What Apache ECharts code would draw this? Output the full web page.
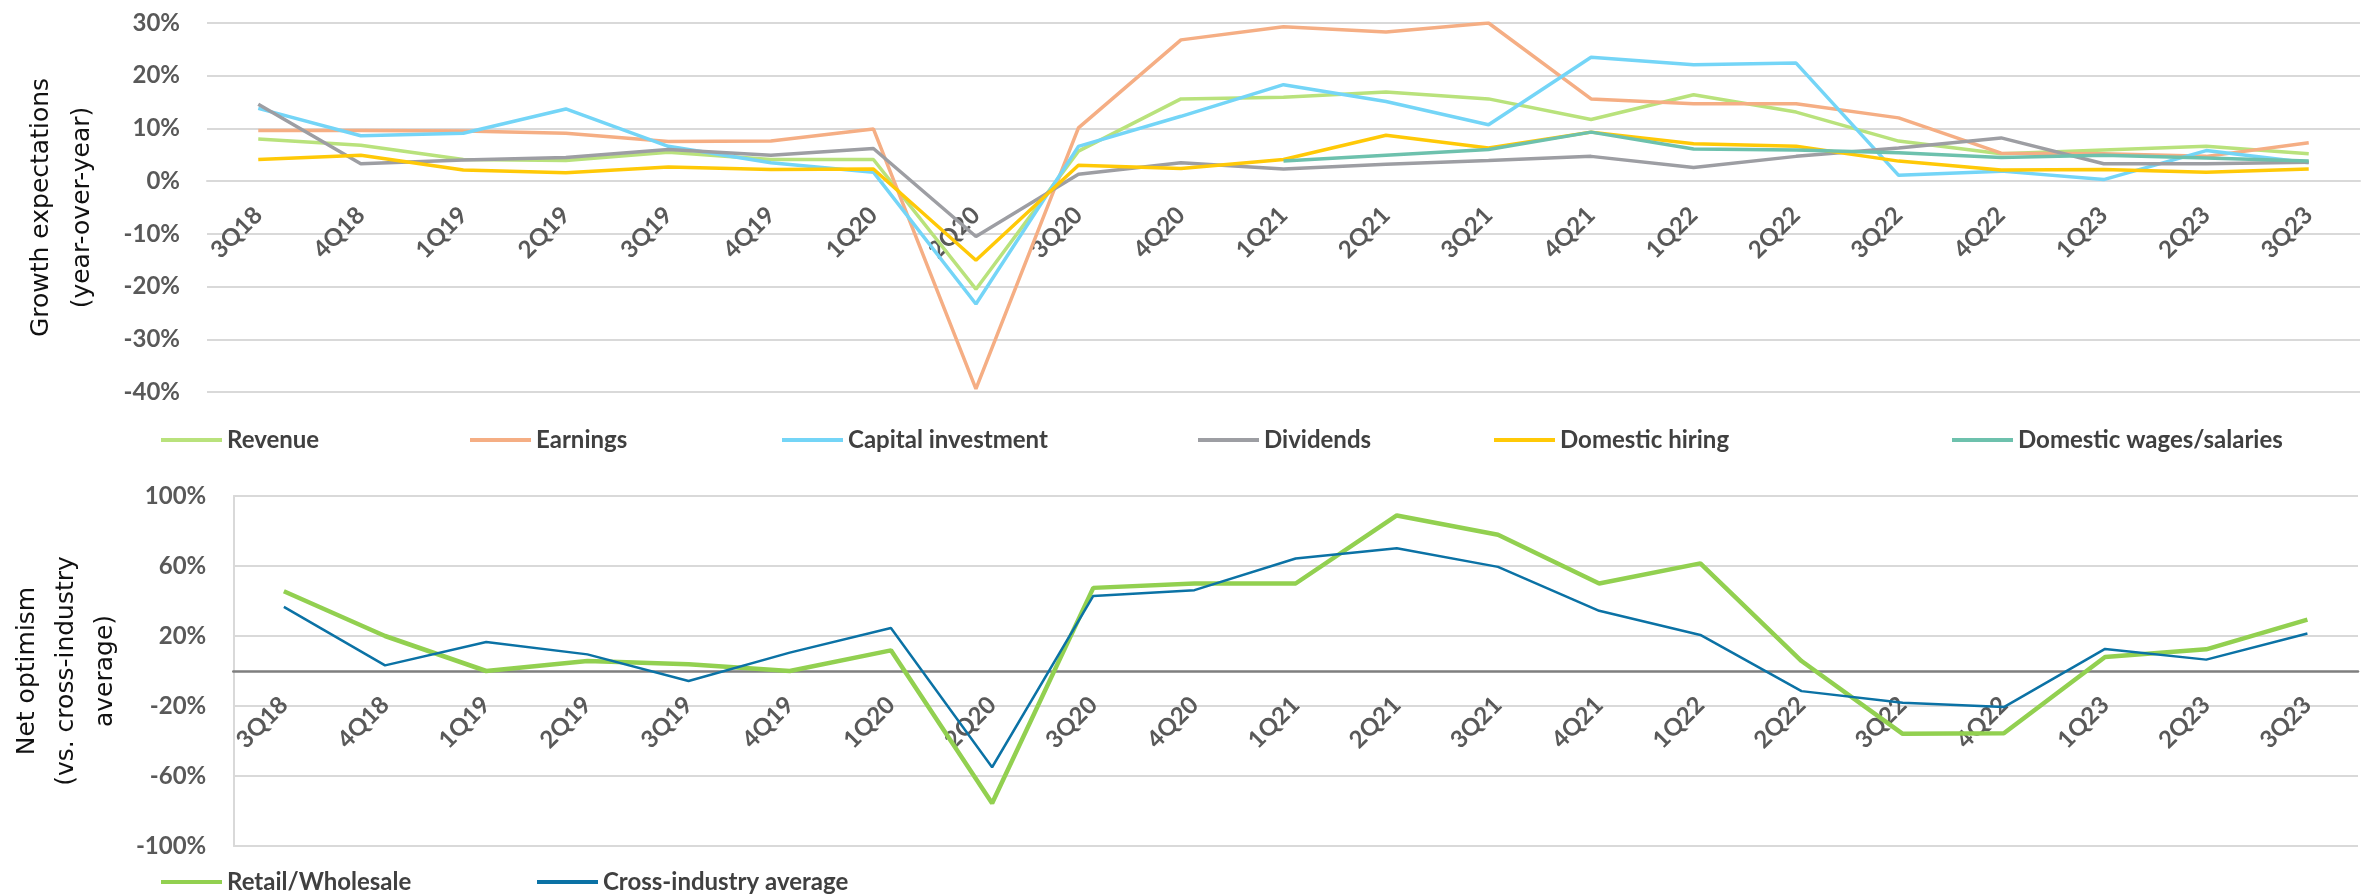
<!DOCTYPE html>
<html lang="en">
<head>
<meta charset="utf-8">
<title>Growth expectations and net optimism</title>
<script src="https://cdn.jsdelivr.net/npm/echarts@6.0.0/dist/echarts.min.js"></script>
<style>
    body {
        margin: 0;
        background: #fff;
    }

    #main {
        width: 2369px;
        height: 894px;
    }
</style>
</head>
<body>
<div id="main"></div>
<script>
    // quarters on both x axes
    var quarters = ['3Q18', '4Q18', '1Q19', '2Q19', '3Q19', '4Q19', '1Q20', '2Q20', '3Q20', '4Q20',
        '1Q21', '2Q21', '3Q21', '4Q21', '1Q22', '2Q22', '3Q22', '4Q22', '1Q23', '2Q23', '3Q23'];

    // top panel: growth expectations (%)
    var revenue = [8.0, 6.8, 4.1, 3.9, 5.5, 4.1, 4.1, -20.5, 5.7, 15.6, 15.9, 16.9, 15.6, 11.7, 16.4, 13.1, 7.6, 5.2, 5.9, 6.6, 5.2];
    var earnings = [9.6, 9.6, 9.5, 9.1, 7.5, 7.6, 9.9, -39.4, 10.1, 26.8, 29.3, 28.3, 30.0, 15.6, 14.7, 14.7, 12.0, 5.3, 5.2, 4.7, 7.3];
    var capex = [13.8, 8.6, 9.1, 13.7, 6.6, 3.5, 1.7, -23.3, 6.6, 12.3, 18.3, 15.1, 10.7, 23.5, 22.1, 22.4, 1.1, 1.9, 0.3, 5.8, 3.5];
    var dividends = [14.6, 3.3, 4.0, 4.5, 6.0, 4.9, 6.2, -10.5, 1.3, 3.5, 2.3, 3.2, 3.9, 4.7, 2.6, 4.7, 6.3, 8.2, 3.3, 3.3, 3.6];
    var hiring = [4.1, 4.9, 2.1, 1.6, 2.7, 2.2, 2.3, -15.0, 3.0, 2.4, 4.1, 8.7, 6.3, 9.3, 7.1, 6.6, 3.8, 2.1, 2.2, 1.7, 2.3];
    var wages = [null, null, null, null, null, null, null, null, null, null, 3.8, 4.9, 6.0, 9.3, 6.1, 5.9, 5.4, 4.5, 4.9, 4.4, 3.8];

    // bottom panel: net optimism (%)
    var retail = [45.6, 20.0, 0, 5.7, 3.8, 0, 11.8, -75.6, 47.5, 50.0, 50.0, 88.9, 77.9, 50.0, 61.5, 5.7, -35.9, -35.6, 8.0, 12.4, 29.4];
    var crossIndustry = [36.6, 3.2, 16.6, 9.5, -5.7, 10.5, 24.6, -55.0, 42.9, 46.2, 64.3, 70.2, 59.5, 34.4, 20.6, -11.5, -18.1, -20.6, 12.6, 6.5, 21.4];

    var labelFont = 'Lato, "Liberation Sans", sans-serif';
    var titleFont = '"DejaVu Sans", Verdana, sans-serif';
    var gridGray = '#d9d9d9';

    // plot heights; the category axis sits on the zero line of each panel
    var topHeight = 369;
    var bottomHeight = 350;
    var topZeroOffset = -topHeight * 40 / 70;
    var bottomZeroOffset = -bottomHeight / 2;

    function lineSeries(name, data, color, width, axis) {
        return {
            name: name,
            type: 'line',
            data: data,
            xAxisIndex: axis,
            yAxisIndex: axis,
            symbol: 'none',
            color: color,
            lineStyle: { color: color, width: width },
            emphasis: { disabled: true }
        };
    }

    function legendAt(name, left, top) {
        return {
            data: [name],
            left: left,
            top: top,
            padding: 0,
            icon: 'rect',
            itemWidth: 61,
            itemHeight: 4,
            textStyle: {
                fontFamily: labelFont,
                fontWeight: 'bold',
                fontSize: 24,
                lineHeight: 28,
                color: '#404040'
            }
        };
    }

    var xLabel = {
        interval: 0,
        rotate: 45,
        margin: 30,
        fontFamily: labelFont,
        fontWeight: 'bold',
        fontSize: 24,
        color: '#595959'
    };

    var option = {
        animation: false,
        backgroundColor: '#fff',
        grid: [
            { left: 207, right: 9, top: 23, height: topHeight },
            { left: 221, right: 11, top: 496, height: bottomHeight }
        ],
        legend: [
            legendAt('Revenue', 161, 426),
            legendAt('Earnings', 470, 426),
            legendAt('Capital investment', 782, 426),
            legendAt('Dividends', 1198, 426),
            legendAt('Domestic hiring', 1494, 426),
            legendAt('Domestic wages/salaries', 1952, 426),
            legendAt('Retail/Wholesale', 161, 868),
            legendAt('Cross-industry average', 537, 868)
        ],
        xAxis: [{
            type: 'category',
            gridIndex: 0,
            data: quarters,
            position: 'bottom',
            offset: topZeroOffset,
            axisLine: { onZero: false, lineStyle: { color: gridGray, width: 2 } },
            axisTick: { length: 8, lineStyle: { color: gridGray, width: 2 } },
            axisLabel: xLabel
        }, {
            type: 'category',
            gridIndex: 1,
            data: quarters,
            position: 'bottom',
            offset: bottomZeroOffset,
            axisLine: { onZero: false, lineStyle: { color: '#7f7f7f', width: 2.5 } },
            axisTick: { length: 8, lineStyle: { color: '#7f7f7f', width: 2 } },
            axisLabel: xLabel
        }],
        yAxis: [{
            type: 'value',
            gridIndex: 0,
            min: -40,
            max: 30,
            interval: 10,
            name: 'Growth expectations\n(year-over-year)',
            nameLocation: 'middle',
            nameGap: 104,
            nameTextStyle: { fontFamily: titleFont, fontSize: 25, lineHeight: 41, color: '#111' },
            axisLine: { show: false },
            axisTick: { show: false },
            axisLabel: {
                formatter: '{value}%',
                margin: 27,
                fontFamily: labelFont,
                fontWeight: 'bold',
                fontSize: 24,
                color: '#595959'
            },
            splitLine: { lineStyle: { color: gridGray, width: 2 } }
        }, {
            type: 'value',
            gridIndex: 1,
            min: -100,
            max: 100,
            interval: 20,
            name: 'Net optimism\n(vs. cross-industry\naverage)',
            nameLocation: 'middle',
            nameGap: 102,
            nameTextStyle: { fontFamily: titleFont, fontSize: 25, lineHeight: 39, color: '#111' },
            axisLine: { show: true, lineStyle: { color: gridGray, width: 2 } },
            axisTick: { show: false },
            axisLabel: {
                // labels only every 40 points, starting at -100
                formatter: function (v) {
                    return (Math.round(v) + 100) % 40 === 0 ? Math.round(v) + '%' : '';
                },
                margin: 27,
                fontFamily: labelFont,
                fontWeight: 'bold',
                fontSize: 24,
                color: '#595959'
            },
            splitLine: { lineStyle: { color: [gridGray, 'rgba(0,0,0,0)'], width: 2 } }
        }],
        series: [
            lineSeries('Revenue', revenue, '#b9e27c', 3.5, 0),
            lineSeries('Earnings', earnings, '#f5ae84', 3.5, 0),
            lineSeries('Capital investment', capex, '#74d5f7', 3.5, 0),
            lineSeries('Dividends', dividends, '#9d9ea3', 3.5, 0),
            lineSeries('Domestic hiring', hiring, '#ffc907', 3.5, 0),
            lineSeries('Domestic wages/salaries', wages, '#6dc1ad', 3.5, 0),
            lineSeries('Retail/Wholesale', retail, '#92d050', 4.5, 1),
            lineSeries('Cross-industry average', crossIndustry, '#0b72a5', 2.5, 1)
        ]
    };

    var myChart = echarts.init(document.getElementById('main'));
    myChart.setOption(option);
</script>
</body>
</html>
